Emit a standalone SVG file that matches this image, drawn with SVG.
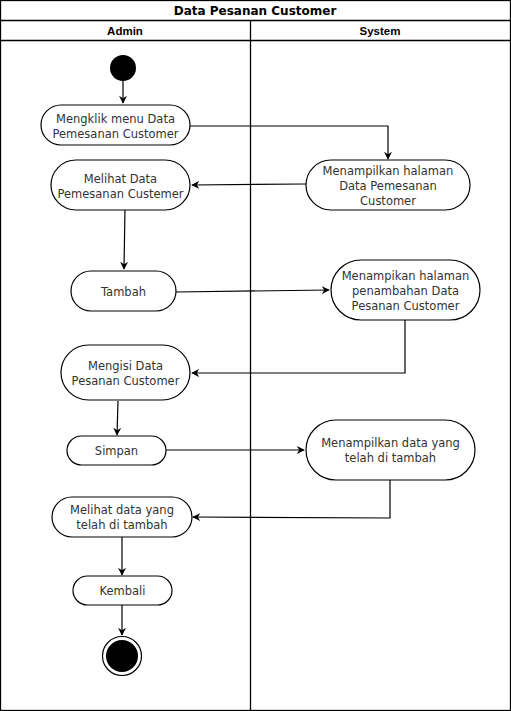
<svg xmlns="http://www.w3.org/2000/svg" width="511" height="711" viewBox="0 0 511 711">
<style>
.lane{fill:none;stroke:#000;stroke-width:1.3}
.node{fill:#fff;stroke:#000;stroke-width:1.2}
.t{font-family:"DejaVu Sans",Verdana,sans-serif;font-size:11.5px;fill:#333;text-anchor:middle}
.h{font-family:"Liberation Sans",Arial,sans-serif;font-size:11.5px;font-weight:bold;fill:#000;text-anchor:middle}
.ttl{font-family:"DejaVu Sans",Verdana,sans-serif;font-size:12px;font-weight:bold;fill:#000;text-anchor:middle}
.e{fill:none;stroke:#000;stroke-width:1.2;marker-end:url(#arr)}
</style>
<defs>
<marker id="arr" viewBox="0 0 10 10" refX="9" refY="5" markerWidth="8" markerHeight="8" markerUnits="userSpaceOnUse" orient="auto">
<path d="M0,0 L10,5 L0,10 L3,5 Z" fill="#000"/>
</marker>
</defs>
<rect width="511" height="711" fill="#fff"/>
<g id="pool">
<rect class="lane" x="0.5" y="0.5" width="510" height="710"/>
<line class="lane" x1="0" y1="20.5" x2="511" y2="20.5"/>
<line class="lane" x1="0" y1="40.5" x2="511" y2="40.5"/>
<line class="lane" x1="250.5" y1="20" x2="250.5" y2="711"/>
<text class="ttl" x="255" y="15">Data Pesanan Customer</text>
<text class="h" x="125" y="35">Admin</text>
<text class="h" x="380" y="35">System</text>
</g>
<g id="connectors">
<path class="e" d="M123,81 L123,103"/>
<path class="e" d="M190,126 L388,126 L388,159"/>
<path class="e" d="M306,184 L192,185"/>
<path class="e" d="M125,208 L124,269"/>
<path class="e" d="M176,292 L329,290"/>
<path class="e" d="M405,320 L405,373 L192,373"/>
<path class="e" d="M118,401 L117,435"/>
<path class="e" d="M166,450 L304,450"/>
<path class="e" d="M390,480 L390,518 L193,517"/>
<path class="e" d="M122,537 L122,575"/>
<path class="e" d="M122,605 L122,635"/>
</g>
<g id="start"><circle cx="123" cy="68" r="13" fill="#000"/></g>
<g id="n1"><rect class="node" x="41" y="105" width="149" height="40" rx="20"/>
<text class="t" x="115.5" y="123">Mengklik menu Data</text><text class="t" x="115.5" y="138">Pemesanan Customer</text></g>
<g id="s1"><rect class="node" x="306" y="160" width="164" height="50" rx="25"/>
<text class="t" x="388" y="175">Menampilkan halaman</text><text class="t" x="388" y="190">Data Pemesanan</text><text class="t" x="388" y="205">Customer</text></g>
<g id="n2"><rect class="node" x="51" y="160" width="139" height="50" rx="25"/>
<text class="t" x="120.5" y="183">Melihat Data</text><text class="t" x="120.5" y="198">Pemesanan Custemer</text></g>
<g id="n3"><rect class="node" x="71" y="271" width="105" height="40" rx="20"/>
<text class="t" x="123.5" y="296">Tambah</text></g>
<g id="s2"><rect class="node" x="331" y="260" width="149" height="60" rx="30"/>
<text class="t" x="405.5" y="280">Menampikan halaman</text><text class="t" x="405.5" y="295">penambahan Data</text><text class="t" x="405.5" y="310">Pesanan Customer</text></g>
<g id="n4"><rect class="node" x="61" y="345" width="129" height="55" rx="27.5"/>
<text class="t" x="125.5" y="370">Mengisi Data</text><text class="t" x="125.5" y="385">Pesanan Customer</text></g>
<g id="n5"><rect class="node" x="67" y="436" width="99" height="29" rx="14.5"/>
<text class="t" x="116.5" y="455">Simpan</text></g>
<g id="s3"><rect class="node" x="306" y="420" width="169" height="60" rx="30"/>
<text class="t" x="390.5" y="447">Menampilkan data yang</text><text class="t" x="390.5" y="462">telah di tambah</text></g>
<g id="n6"><rect class="node" x="52" y="497" width="140" height="40" rx="20"/>
<text class="t" x="122" y="514">Melihat data yang</text><text class="t" x="122" y="529">telah di tambah</text></g>
<g id="n7"><rect class="node" x="73" y="576" width="99" height="29" rx="14.5"/>
<text class="t" x="122.5" y="595">Kembali</text></g>
<g id="end"><circle cx="122" cy="656" r="19.5" fill="#fff" stroke="#000" stroke-width="1.2"/><circle cx="122" cy="656" r="16" fill="#000"/></g>
</svg>
